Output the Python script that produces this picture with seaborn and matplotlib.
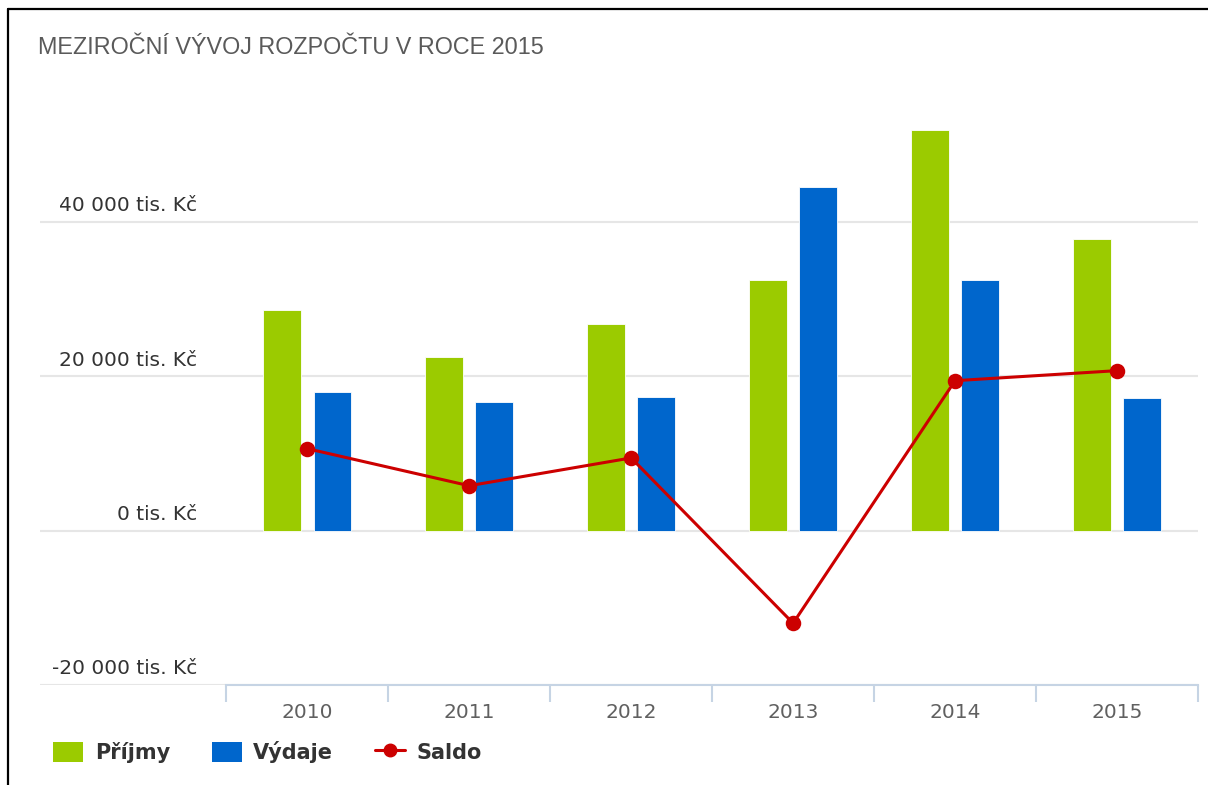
import numpy as np
import pandas as pd
import matplotlib.pyplot as plt
import matplotlib.transforms as mtransforms
from matplotlib.lines import Line2D
from matplotlib.patches import Patch
import seaborn as sns

# Data (tis. Kč)
years = ["2010", "2011", "2012", "2013", "2014", "2015"]
prijmy = [28500, 22500, 26700, 32400, 51800, 37800]
vydaje = [17900, 16700, 17300, 44500, 32400, 17100]
saldo = [10600, 5800, 9400, -12000, 19400, 20700]

series_names = ["Příjmy", "Výdaje"]
series_colors = ["#9BCB00", "#0066CC"]
saldo_color = "#CC0000"
y_ticks = [-20000, 0, 20000, 40000]

sns.set_theme(style="white")
plt.rcParams['font.family'] = ['DejaVu Sans']

df = pd.DataFrame({
    "Rok": years * 2,
    "Hodnota": prijmy + vydaje,
    "Řada": [series_names[0]] * len(years) + [series_names[1]] * len(years),
})

W, H = 1208, 785
fig = plt.figure(figsize=(W / 100, H / 100), dpi=100)
ax = fig.add_axes([40 / W, 1 - 685 / H, (1198 - 40) / W, (685 - 98) / H])

sns.barplot(data=df, x="Rok", y="Hodnota", hue="Řada", palette=series_colors,
            saturation=1, width=0.62, gap=0.25, ax=ax, legend=False, zorder=2,
            edgecolor="white", linewidth=0.6)
sns.pointplot(x=years, y=saldo, color=saldo_color, ax=ax, markers="o",
              markersize=9.5, linewidth=2.2)
for line in ax.lines:
    line.set_zorder(4)
for coll in ax.collections:
    coll.set_zorder(5)

ax.set_xlim(-1.65, 5.5)
ax.set_ylim(-20000, 56000)

# grid / spines
ax.set_yticks(y_ticks)
ax.set_yticklabels([f"{v:,} tis. Kč".replace(",", " ") for v in y_ticks])
ax.grid(axis="y", color="#e6e6e6", linewidth=1.5, zorder=0)
ax.set_axisbelow(True)
for s in ["top", "right", "left"]:
    ax.spines[s].set_visible(False)
ax.spines["bottom"].set_bounds(-0.5, 5.5)
ax.spines["bottom"].set_color("#c6d4e4")
ax.spines["bottom"].set_linewidth(1.5)

ax.set_xticks(range(len(years)))
ax.set_xticklabels(years)
ax.set_xticks(np.arange(-0.5, len(years)), minor=True)
ax.tick_params(axis="x", which="major", bottom=True, length=0, pad=13,
               labelsize=14.5, labelcolor="#606060")
ax.tick_params(axis="x", which="minor", bottom=True, length=12, width=1.5,
               color="#c6d4e4", direction="out")
ax.tick_params(axis="y", length=0, pad=0, labelsize=14.5, labelcolor="#333333")
ax.set_xlabel("")
ax.set_ylabel("")

offset = mtransforms.ScaledTranslation(1.57, 0.18, fig.dpi_scale_trans)
for lab in ax.get_yticklabels():
    lab.set_transform(lab.get_transform() + offset)

# title
fig.text(38 / W, 1 - 47 / H, "MEZIROČNÍ VÝVOJ ROZPOČTU V ROCE 2015",
         family="Liberation Sans", fontsize=16.8, color="#5a5a5a", va="center", ha="left")

# legend
handles = [
    Patch(facecolor=series_colors[0], edgecolor="none"),
    Patch(facecolor=series_colors[1], edgecolor="none"),
    Line2D([0], [0], color=saldo_color, linewidth=2.2, marker="o", markersize=9),
]
leg = fig.legend(handles, series_names + ["Saldo"], loc="center left",
                 bbox_to_anchor=(53 / W, 1 - 752 / H), ncol=3, frameon=False,
                 borderpad=0, borderaxespad=0, handlelength=1.45, handleheight=1.1,
                 handletextpad=0.55, columnspacing=2.0,
                 prop={"weight": "bold", "size": 15})
for t in leg.get_texts():
    t.set_color("#333333")

# outer frame (top and left)
fig.add_artist(Line2D([8 / W, 1], [1 - 9 / H, 1 - 9 / H], color="black", linewidth=1.6))
fig.add_artist(Line2D([8 / W, 8 / W], [0, 1 - 9 / H], color="black", linewidth=1.6))

fig.savefig("out.png", dpi=100)
